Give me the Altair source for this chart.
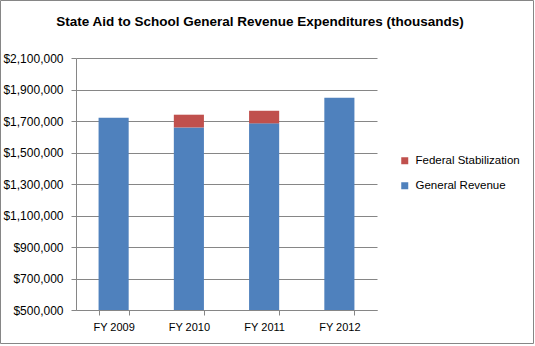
import altair as alt
import pandas as pd

years = ["FY 2009", "FY 2010", "FY 2011", "FY 2012"]
general_revenue = [1721000, 1659000, 1685000, 1848000]
federal_stabilization = [0, 81000, 80000, 0]
series = ["Federal Stabilization", "General Revenue"]
colors = ["#C0504D", "#4F81BD"]
y_ticks = [500000, 700000, 900000, 1100000, 1300000, 1500000, 1700000, 1900000, 2100000]
title_text = "State Aid to School General Revenue Expenditures (thousands)"

rows = []
for i, yr in enumerate(years):
    rows.append({"year": yr, "series": "General Revenue", "value": general_revenue[i], "order": 0})
    rows.append({"year": yr, "series": "Federal Stabilization", "value": federal_stabilization[i], "order": 1})
df = pd.DataFrame(rows)

FONT = "Liberation Sans"
GRAY = "#868686"

bars = alt.Chart(df).mark_bar(clip=True).encode(
    x=alt.X("year:N", sort=years, title=None,
            scale=alt.Scale(paddingInner=0.6, paddingOuter=0.3),
            axis=alt.Axis(labelAngle=0, tickBand="extent", tickSize=5, tickColor=GRAY,
                          domainColor=GRAY, labelFont=FONT, labelFontSize=11,
                          labelColor="#000000", labelPadding=6, grid=False)),
    y=alt.Y("value:Q", stack="zero", title=None,
            scale=alt.Scale(domain=[500000, 2100000], nice=False, zero=False),
            axis=alt.Axis(values=y_ticks, format="$,.0f", tickSize=5, tickColor=GRAY,
                          domainColor=GRAY, gridColor=GRAY, labelFont=FONT, labelFontSize=12,
                          labelColor="#000000", labelPadding=8)),
    color=alt.Color("series:N", sort=series,
                    scale=alt.Scale(domain=series, range=colors),
                    legend=alt.Legend(title=None, orient="none", legendX=323, legendY=97,
                                      symbolType="square", symbolSize=49, symbolStrokeWidth=0,
                                      labelFont=FONT, labelFontSize=11.5, labelColor="#000000",
                                      rowPadding=12, labelOffset=5, padding=0)),
    order=alt.Order("order:Q"),
)

title = alt.Chart(alt.Data(values=[{"t": title_text}])).mark_text(
    font=FONT, fontSize=13.5, fontWeight="bold", color="#000000",
    align="center", baseline="middle", clip=False
).encode(
    text="t:N", x=alt.value(184), y=alt.value(-36)
)

border = alt.Chart(alt.Data(values=[{}])).mark_rect(
    fill=None, stroke=GRAY, strokeWidth=1, clip=False
).encode(
    x=alt.value(-75.5), x2=alt.value(457.5), y=alt.value(-57.5), y2=alt.value(285.5)
)

chart = alt.layer(bars, title, border).properties(
    width=301, height=252,
    padding={"left": 76, "top": 58, "right": 158, "bottom": 36},
    autosize=alt.AutoSizeParams(type="none"),
    background="white",
).configure_view(stroke=None)

chart.save("out.html", embed_options={"renderer": "svg", "actions": False})
